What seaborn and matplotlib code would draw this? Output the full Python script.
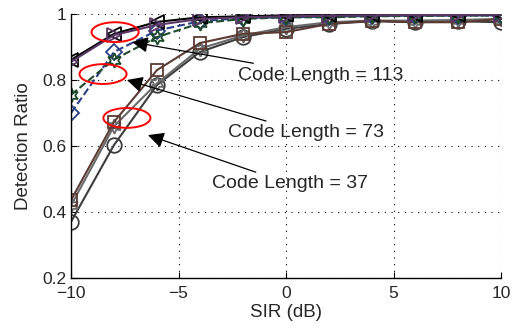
import matplotlib
matplotlib.use("Agg")
import matplotlib.pyplot as plt
import seaborn as sns
import numpy as np
import pandas as pd
from matplotlib.patches import Ellipse

sns.set_style("ticks")
plt.rcParams['font.family'] = ['Liberation Sans', 'DejaVu Sans']

sir = [-10, -8, -6, -4, -2, 0, 2, 4, 6, 8, 10]

# Code length 37
cl37_square = [0.436, 0.673, 0.83, 0.912, 0.94, 0.945, 0.97, 0.98, 0.975, 0.975, 0.985]
cl37_star = [0.42, 0.66, 0.79, 0.895, 0.935, 0.96, 0.975, 0.98, 0.98, 0.982, 0.985]
cl37_circle = [0.37, 0.603, 0.785, 0.885, 0.93, 0.955, 0.97, 0.978, 0.975, 0.978, 0.975]
# Code length 73
cl73_diamond = [0.70, 0.885, 0.95, 0.978, 0.988, 0.99, 0.992, 0.994, 0.995, 0.995, 0.996]
cl73_hex = [0.755, 0.862, 0.93, 0.972, 0.985, 0.99, 0.99, 0.993, 0.994, 0.995, 0.995]
# Code length 113
cl113_left = [0.861, 0.94, 0.976, 0.99, 0.993, 0.996, 0.997, 0.997, 0.998, 0.998, 0.998]
cl113_right = [0.855, 0.936, 0.967, 0.985, 0.99, 0.993, 0.995, 0.996, 0.997, 0.997, 0.998]

series = [
    ("37c", cl37_circle, "#3c3c3c", "o", "-"),
    ("37s", cl37_star, "#6a6a6a", (6, 1, 0), "-"),
    ("37q", cl37_square, "#5b3b34", "s", "-"),
    ("73d", cl73_diamond, "#2b3f86", "D", "--"),
    ("73h", cl73_hex, "#1e4a2c", (6, 1, 0), "--"),
    ("113l", cl113_left, "#000000", "<", "-"),
    ("113r", cl113_right, "#5a3866", ">", "-"),
]

fig = plt.figure(figsize=(5.13, 3.31), dpi=100)
ax = fig.add_axes([71/513, 1-278/331, 430/513, 264/331])

for name, vals, col, mk, ls in series:
    ms = 8.5 if mk in ("D", "s") else 10.5
    sns.lineplot(x=sir, y=vals, ax=ax, color=col, linestyle=ls, linewidth=1.5,
                 marker=mk, markersize=ms, markerfacecolor='none',
                 markeredgecolor=col, markeredgewidth=1.3)

ax.set_xlim(-10, 10)
ax.set_ylim(0.2, 1.0)
ax.set_xticks([-10, -5, 0, 5, 10])
ax.set_yticks([0.2, 0.4, 0.6, 0.8, 1.0])
ax.set_yticklabels(["0.2", "0.4", "0.6", "0.8", "1"])
ax.grid(True, linestyle=(0, (1, 5)), color='black', linewidth=0.8)
ax.tick_params(direction='in', labelsize=12.5, length=4, color='black')
ax.tick_params(axis='x', pad=6)
ax.tick_params(axis='y', pad=3)
for s in ['top', 'right']:
    ax.spines[s].set_visible(False)
for s in ['left', 'bottom']:
    ax.spines[s].set_color('black')
    ax.spines[s].set_linewidth(1.0)
ax.set_xlabel("SIR (dB)", fontsize=13.5, labelpad=2)
ax.set_ylabel("Detection Ratio", fontsize=13.5, labelpad=8)

# ellipses
for cx, cy in [(-7.95, 0.945), (-8.51, 0.818), (-7.4, 0.685)]:
    ax.add_patch(Ellipse((cx, cy), 2.19, 0.06, fill=False, edgecolor='red', linewidth=1.4, zorder=5))

ann = [
    ("Code Length = 113", (-7.16, 0.915), (-2.23, 0.815)),
    ("Code Length = 73", (-7.4, 0.80), (-2.7, 0.64)),
    ("Code Length = 37", (-6.42, 0.633), (-3.44, 0.485)),
]
for txt, tip, pos in ann:
    ax.annotate(txt, xy=tip, xytext=pos, fontsize=14, va='center', ha='left',
                arrowprops=dict(arrowstyle='-|>', color='black', lw=0.9, mutation_scale=24,
                                shrinkA=0, shrinkB=0),
                zorder=6)

fig.savefig("out.png", dpi=100)
